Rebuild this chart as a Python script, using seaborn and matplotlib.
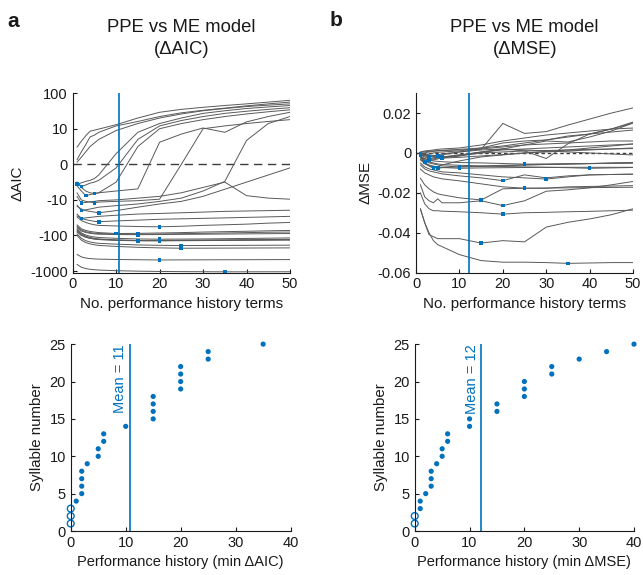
import matplotlib
matplotlib.use("Agg")
import matplotlib.pyplot as plt
import matplotlib.transforms as mtransforms
import numpy as np
import pandas as pd
import seaborn as sns

# number of performance history terms on the x axis of the top panels
history_terms = [1, 2, 3, 4, 5, 6, 10, 15, 20, 25, 30, 35, 40, 45, 50]
syllables = list(range(1, 26))

# delta AIC (PPE - ME) per syllable, one row per syllable
aic_curves = [
    [4.8, 6.5, 8, 9.3, 9.6, 9.9, 13, 20, 29, 35, 40, 45, 50, 56, 63],
    [1.3, 3.5, 5.5, 7.7, 8.2, 9, 12, 16, 22, 28, 33, 38, 44, 50, 56],
    [0.6, 2, 3.5, 5, 6, 7, 9.5, 14, 20, 26, 32, 37, 42, 46, 50],
    [-5.6, -5.2, -4.8, -4.5, -4, -3, 3, 9, 14, 20, 27, 32, 37, 41, 45],
    [-5, -6.2, -5.8, -5.3, -5, -4.5, -1, 7, 12, 17, 22, 27, 31, 35, 39],
    [-9, -12.3, -11.8, -11.3, -11, -10.5, -10, -9.5, -9, -8, -6.5, -5, -8.8, -9.5, -9.8],
    [-14, -20, -19, -18, -17, -16, -14.5, -13, -11, -9.5, -7.5, -4.8, 6.7, 14, 22],
    [-25, -33, -32, -31, -30, -29, -27, -25, -24, -23, -22, -21, -20.5, -20, -19.5],
    [-6, -7.5, -8.8, -8.5, -8.2, -8, -5, 5, 10, 14, 18, 22, 26, 30, 34],
    [-5, -6.5, -7.5, -8, -8.2, -8, -7.5, -6.9, 6.2, 8.5, 10.5, 9, 15.6, 22, 29],
    [-8, -10, -11, -11.5, -12, -11.5, -11, -10.5, -9.8, 0, 10, 12, 14, 16, 18],
    [-15, -18, -20, -21, -22, -23, -20, -16, -13, -11, -9, -7, -5, -3, -1],
    [-28, -33, -36, -38, -40, -41, -39, -37, -35, -34, -33, -32, -31, -30, -29],
    [-50, -65, -72, -77, -80, -83, -88, -87, -85, -83, -80, -78, -76, -74, -72],
    [-55, -70, -78, -83, -86, -88, -91, -92, -91, -89, -87, -85, -83, -81, -80],
    [-60, -75, -82, -87, -90, -92, -94, -95, -94, -93, -92, -91, -90, -89, -88],
    [-75, -95, -110, -120, -126, -130, -137, -141, -140, -138, -136, -134, -132, -130, -128],
    [-70, -90, -104, -114, -120, -125, -133, -138, -137, -136, -135, -134, -133, -132, -131],
    [-30, -38, -43, -47, -50, -52, -54, -56, -57, -55, -52, -50, -48, -45, -43],
    [-65, -85, -97, -105, -110, -114, -120, -125, -127, -126, -125, -123, -121, -119, -117],
    [-80, -100, -112, -120, -125, -129, -135, -139, -141, -140, -139, -138, -137, -136, -135],
    [-340, -400, -430, -445, -455, -462, -472, -480, -487, -485, -483, -481, -479, -477, -475],
    [-90, -120, -140, -152, -160, -166, -175, -184, -189, -192, -191, -190, -189, -188, -187],
    [-100, -135, -158, -172, -182, -190, -203, -215, -223, -228, -227, -226, -225, -224, -223],
    [-650, -780, -850, -890, -915, -935, -975, -1005, -1025, -1035, -1042, -1050, -1048, -1046, -1045],
]

# delta MSE (PPE - ME) per syllable
mse_curves = [
    [0.0005, 0.001, 0.0012, 0.0015, 0.0018, 0.002, 0.0025, 0.004, 0.006, 0.0075, 0.009, 0.010, 0.011, 0.012, 0.0125],
    [0.0003, 0.0006, 0.0008, 0.001, 0.0012, 0.0013, 0.0018, 0.0025, 0.0035, 0.005, 0.0065, 0.0085, 0.0095, 0.0105, 0.0115],
    [-0.0002, 0.0, 0.0005, 0.0008, 0.001, 0.0012, 0.0015, 0.0018, 0.0148, 0.0098, 0.0107, 0.014, 0.017, 0.020, 0.0226],
    [-0.001, -0.0008, -0.0005, 0.0, 0.0003, 0.0005, 0.001, 0.0025, 0.005, 0.006, 0.0065, 0.008, 0.0095, 0.012, 0.0155],
    [-0.002, -0.0047, -0.004, -0.0035, -0.003, -0.0025, -0.0015, 0.0, 0.002, 0.004, 0.006, 0.0055, 0.008, 0.011, 0.015],
    [-0.0005, -0.0012, -0.002, -0.0015, -0.001, -0.0005, 0.0005, 0.002, 0.003, 0.004, 0.0045, 0.005, 0.0055, 0.006, 0.006],
    [-0.001, -0.002, -0.003, -0.0025, -0.0022, -0.002, -0.001, 0.0005, 0.0015, 0.002, 0.0025, 0.003, 0.0035, 0.004, 0.0045],
    [-0.0015, -0.0028, -0.0036, -0.003, -0.0025, -0.002, -0.0015, 0.0005, 0.002, 0.001, -0.0028, 0.0046, 0.0095, 0.012, 0.015],
    [-0.003, -0.005, -0.0065, -0.0077, -0.007, -0.006, -0.004, -0.002, -0.001, 0.0, 0.0005, 0.001, 0.0015, 0.002, 0.0025],
    [0.0, -0.0005, -0.001, -0.0012, -0.0015, -0.001, 0.0005, 0.0015, 0.002, 0.0015, 0.001, 0.0005, 0.0, -0.0005, -0.001],
    [-0.003, -0.0055, -0.0065, -0.0072, -0.0077, -0.0074, -0.007, -0.0068, -0.0065, -0.006, -0.0058, -0.0055, -0.0053, -0.005, -0.0048],
    [-0.0005, -0.001, -0.0014, -0.0017, -0.002, -0.0022, -0.001, 0.0, 0.0005, 0.001, 0.0012, 0.0015, 0.0018, 0.002, 0.0022],
    [-0.001, -0.0015, -0.0018, -0.0021, -0.0024, -0.0026, -0.0022, -0.0015, -0.0008, 0.0, 0.0008, 0.0015, 0.0025, 0.0035, 0.0045],
    [-0.002, -0.004, -0.005, -0.0055, -0.006, -0.0065, -0.007, -0.0066, -0.0062, -0.006, -0.0058, -0.0056, -0.0054, -0.0052, -0.005],
    [-0.0035, -0.005, -0.006, -0.0066, -0.007, -0.0073, -0.0077, -0.0075, -0.0074, -0.0073, -0.0072, -0.0072, -0.0072, -0.0072, -0.0072],
    [-0.0126, -0.016, -0.018, -0.0195, -0.0205, -0.021, -0.0225, -0.0236, -0.018, -0.0177, -0.0177, -0.017, -0.0168, -0.0166, -0.0164],
    [-0.028, -0.035, -0.041, -0.042, -0.043, -0.043, -0.043, -0.0452, -0.044, -0.0446, -0.0372, -0.0348, -0.0331, -0.031, -0.028],
    [-0.006, -0.008, -0.009, -0.0095, -0.010, -0.0105, -0.0115, -0.0125, -0.0139, -0.011, -0.0125, -0.0115, -0.011, -0.0108, -0.0107],
    [-0.0159, -0.022, -0.024, -0.025, -0.023, -0.025, -0.025, -0.024, -0.0264, -0.024, -0.0192, -0.0185, -0.0175, -0.016, -0.0143],
    [-0.020, -0.0255, -0.028, -0.029, -0.029, -0.0292, -0.0295, -0.030, -0.0307, -0.030, -0.0298, -0.0295, -0.0293, -0.029, -0.0287],
    [-0.002, -0.003, -0.0035, -0.004, -0.0042, -0.0044, -0.0048, -0.005, -0.0053, -0.0056, -0.0055, -0.0054, -0.0053, -0.0052, -0.0051],
    [-0.008, -0.010, -0.011, -0.012, -0.0125, -0.013, -0.014, -0.0155, -0.017, -0.0177, -0.0176, -0.0175, -0.0174, -0.0173, -0.0172],
    [-0.005, -0.007, -0.008, -0.0085, -0.009, -0.0095, -0.010, -0.011, -0.012, -0.0125, -0.0131, -0.012, -0.011, -0.0108, -0.0106],
    [-0.028, -0.035, -0.040, -0.044, -0.046, -0.047, -0.051, -0.054, -0.0548, -0.0548, -0.055, -0.0554, -0.0552, -0.055, -0.055],
    [-0.002, -0.0035, -0.0045, -0.005, -0.0055, -0.0058, -0.0062, -0.0065, -0.0068, -0.007, -0.0072, -0.0074, -0.0077, -0.0075, -0.0073],
]

aic_ticks = [-1000, -100, -10, 0, 10, 100]
aic_ticklabels = ["-1000", "-100", "-10", "0", "10", "100"]
mse_ticks = [-0.06, -0.04, -0.02, 0, 0.02]
mse_ticklabels = ["-0.06", "-0.04", "-0.02", "0", "0.02"]

BLUE = "#0072BD"
GREY = "#595959"
INK = "#1a1a1a"

sns.set_style("ticks")
plt.rcParams["font.family"] = ["Liberation Sans", "DejaVu Sans"]
plt.rcParams["axes.unicode_minus"] = False
plt.rcParams.update({"text.color": INK, "axes.labelcolor": INK, "xtick.color": INK,
                     "ytick.color": INK, "axes.edgecolor": INK})


def long_table(curves):
    rows = []
    for syl, values in zip(syllables, curves):
        for x, v in zip(history_terms, values):
            rows.append({"syllable": syl, "terms": x, "delta": v})
    return pd.DataFrame(rows)


def best_terms(curves):
    # no history term helps when the curve never goes below zero
    best = []
    for values in curves:
        i = int(np.argmin(values))
        best.append(history_terms[i] if values[i] < 0 else 0)
    return best


def style_axes(ax):
    sns.despine(ax=ax)
    ax.tick_params(direction="in", length=3, labelsize=10.5, width=0.8)
    for side in ["left", "bottom"]:
        ax.spines[side].set_linewidth(0.8)


def plot_curves(ax, curves, best, dashes):
    df = long_table(curves)
    sns.lineplot(data=df, x="terms", y="delta", units="syllable", estimator=None,
                 color=GREY, linewidth=0.7, ax=ax, zorder=2)
    ax.axhline(0, color="#3c3c3c", linewidth=1.0, dashes=dashes, zorder=1)
    mins = pd.DataFrame({"terms": best, "delta": [min(v) for v in curves]})
    mins = mins[mins.terms > 0]
    sns.scatterplot(data=mins, x="terms", y="delta", color=BLUE, s=7, marker="s",
                    edgecolor="none", ax=ax, zorder=3)
    ax.axvline(np.mean(best), color=BLUE, linewidth=1.2, zorder=4)
    ax.set_xlim(0, 50)
    ax.set_xticks([0, 10, 20, 30, 40, 50])
    ax.set_xlabel("No. performance history terms", fontsize=10.9)
    style_axes(ax)


def plot_best(ax, best, label):
    df = pd.DataFrame({"terms": best, "syllable": syllables})
    some = df[df.terms > 0]
    none = df[df.terms == 0]
    sns.scatterplot(data=some, x="terms", y="syllable", color=BLUE, s=14,
                    edgecolor="none", ax=ax, clip_on=False)
    sns.scatterplot(data=none, x="terms", y="syllable", facecolor="none",
                    edgecolor=BLUE, linewidth=1.0, s=24, ax=ax, clip_on=False)
    mean = np.mean(best)
    ax.axvline(mean, ymax=1, color=BLUE, linewidth=1.2)
    shift = mtransforms.offset_copy(ax.transData, fig=ax.figure, x=-2, y=0, units="points")
    ax.text(mean, 25, f"Mean = {round(mean)}", rotation=90, ha="right", va="top",
            color=BLUE, fontsize=10.5, transform=shift)
    ax.set_xlim(0, 40)
    ax.set_ylim(0, 25)
    ax.set_xticks([0, 10, 20, 30, 40])
    ax.set_yticks([0, 5, 10, 15, 20, 25])
    ax.set_xlabel(f"Performance history (min \u0394{label})", fontsize=10.5)
    ax.set_ylabel("Syllable number", fontsize=10.8)
    style_axes(ax)


fig = plt.figure(figsize=(6.43, 5.75), dpi=100)
ax_a = fig.add_axes([0.113, 0.526, 0.338, 0.312])
ax_b = fig.add_axes([0.647, 0.526, 0.3375, 0.312])
ax_c = fig.add_axes([0.110, 0.0765, 0.342, 0.325])
ax_d = fig.add_axes([0.645, 0.0765, 0.341, 0.325])

aic_best = best_terms(aic_curves)
mse_best = best_terms(mse_curves)

plot_curves(ax_a, aic_curves, aic_best, (6, 4))
ax_a.set_yscale("symlog", linthresh=10, linscale=0.9)
ax_a.set_ylim(-1100, 100)
ax_a.set_yticks(aic_ticks)
ax_a.set_yticklabels(aic_ticklabels)
ax_a.yaxis.set_minor_locator(matplotlib.ticker.NullLocator())
ax_a.set_ylabel("\u0394AIC", fontsize=10.9)

plot_curves(ax_b, mse_curves, mse_best, (2.5, 2))
ax_b.set_ylim(-0.06, 0.03)
ax_b.set_yticks(mse_ticks)
ax_b.set_yticklabels(mse_ticklabels)
ax_b.set_ylabel("\u0394MSE", fontsize=10.9)

plot_best(ax_c, aic_best, "AIC")
plot_best(ax_d, mse_best, "MSE")

fig.text(0.282, 0.933, "PPE vs ME model\n(\u0394AIC)", ha="center", va="center",
         fontsize=13.3, linespacing=1.4)
fig.text(0.816, 0.933, "PPE vs ME model\n(\u0394MSE)", ha="center", va="center",
         fontsize=13.3, linespacing=1.4)
fig.text(0.012, 0.962, "a", fontsize=15, fontweight="bold", va="center")
fig.text(0.512, 0.965, "b", fontsize=15, fontweight="bold", va="center")

fig.savefig("out.png", dpi=100)
